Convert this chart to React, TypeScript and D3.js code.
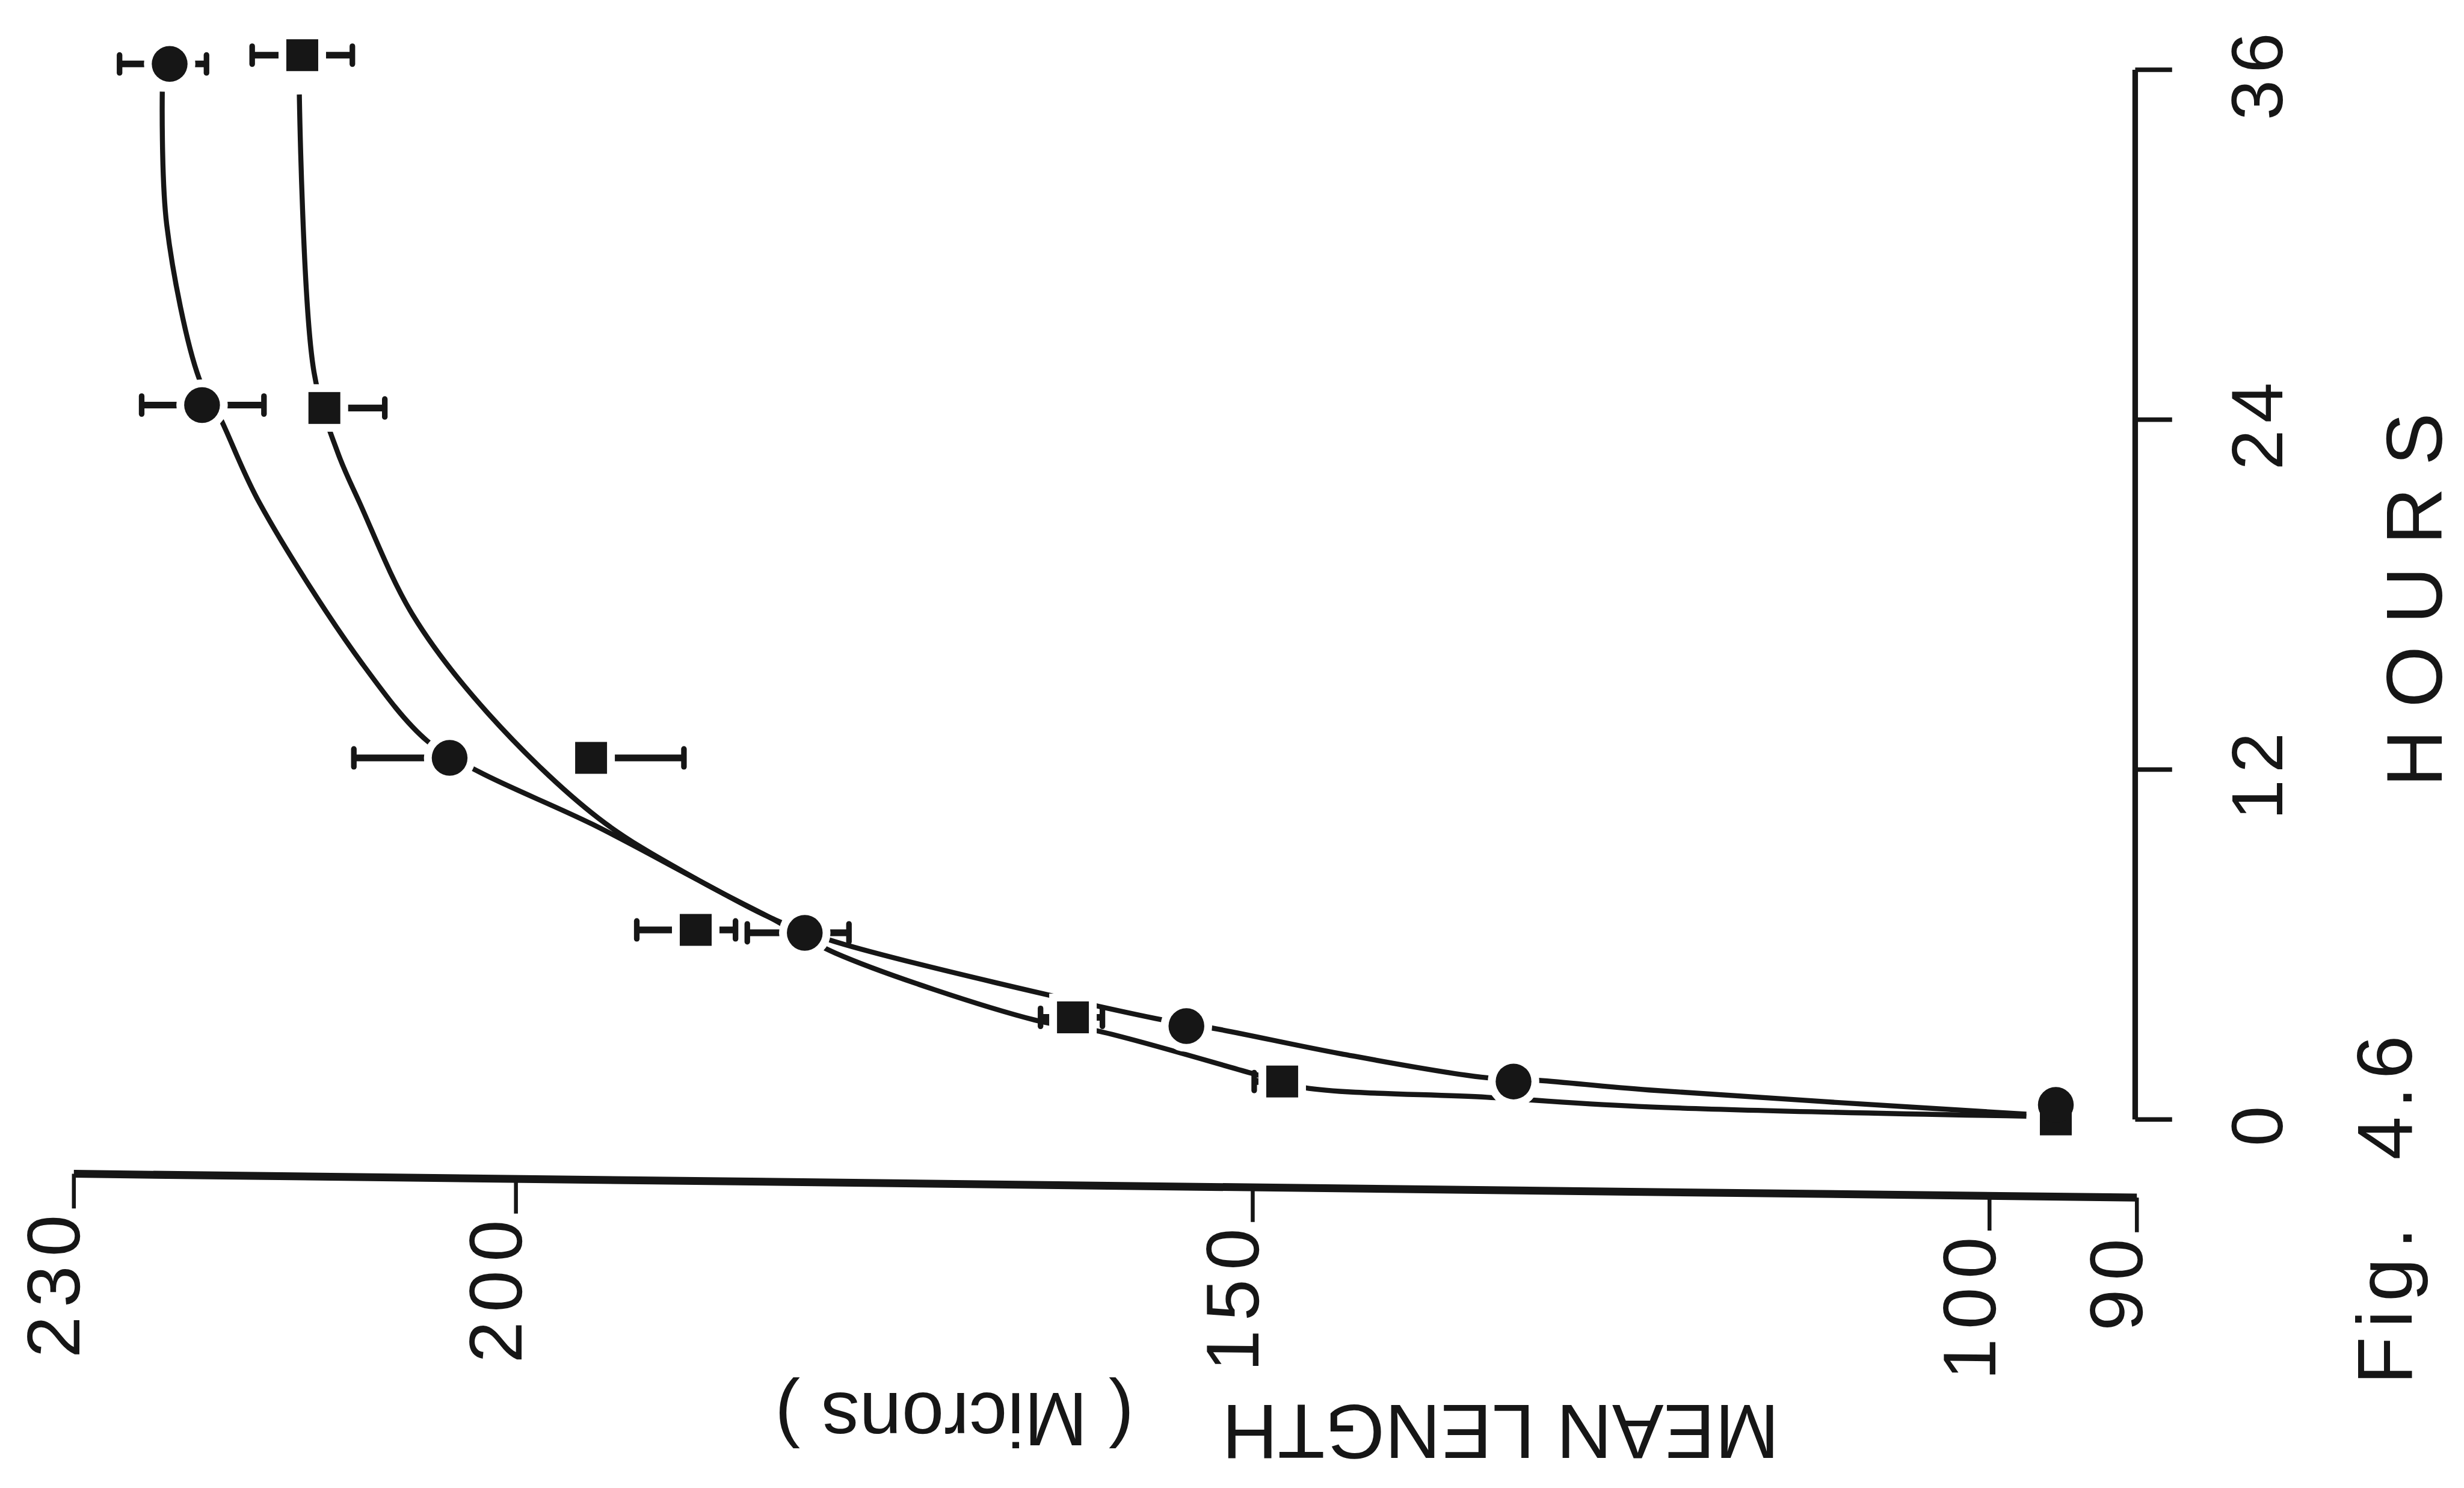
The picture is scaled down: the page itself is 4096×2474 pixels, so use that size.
import React from "react";
import * as d3 from "d3";

// figure is printed turned a quarter turn: length runs left->right (230 -> 90), hours run bottom->top
const hourTicks = [0, 12, 24, 36];
const lengthTicks = [230, 200, 150, 100, 90];

// circles
const circleHours = [0.5, 1.3, 3.2, 6.4, 12.4, 24.5, 36.2];
const circleLength = [95.5, 132.3, 154.5, 180.4, 204.5, 221.3, 223.5];
const circleErrHi = [0, 0, 0, 3.9, 6.5, 4.1, 3.4];
const circleErrLo = [0, 0, 0, 3.0, 0, 4.2, 2.5];

// squares
const squareHours = [0, 1.3, 3.5, 6.5, 12.4, 24.4, 36.5];
const squareLength = [95.5, 148.0, 162.2, 187.8, 194.9, 213.0, 214.5];
const squareErrHi = [0, 1.9, 2.2, 4.0, 0, 0, 3.4];
const squareErrLo = [0, 0, 2.0, 2.7, 6.3, 4.1, 3.4];

// hand drawn fitted curves, [hours, length]
const circleCurve: [number, number][] = [
  [35.25, 224.0], [30.69, 223.7], [25.41, 221.5], [24.09, 220.1], [21.14, 217.4],
  [15.61, 210.4], [12.97, 206.0], [11.92, 202.5], [10.12, 194.8], [8.2, 187.6],
  [6.91, 182.7], [6.09, 178.3], [3.46, 156.6], [3.1, 152.4], [2.25, 144.0],
  [1.45, 134.5], [1.34, 130.6], [1.01, 123.1], [0.18, 97.5],
];
const squareCurve: [number, number][] = [
  [35.15, 214.7], [25.62, 213.7], [22.88, 212.1], [21.14, 210.6], [17.3, 207.0],
  [13.93, 201.9], [10.33, 194.4], [8.2, 187.6], [6.91, 182.7], [5.7, 178.3],
  [3.41, 164.8], [3.02, 160.4], [1.53, 149.7], [1.09, 146.5], [0.76, 134.1],
  [0.43, 123.1], [0.11, 97.5],
];

const ink = "#161616";
const font = "'Liberation Sans', Arial, Helvetica, sans-serif";

export default function App() {
  const W = 4407;
  const H = 2662;

  const x = d3.scaleLinear().domain([230, 90]).range([132, 3822]);
  const y = d3.scaleLinear().domain([0, 36]).range([2002.6, 124.8]);

  const line = d3
    .line<[number, number]>()
    .x((d) => x(d[1]))
    .y((d) => y(d[0]))
    .curve(d3.curveCatmullRom.alpha(0.5));

  const r = 32;
  const side = 57;
  const halo = 28;

  const circles = circleHours.map((h, i) => ({
    h, v: circleLength[i], hi: circleErrHi[i], lo: circleErrLo[i], shape: "c",
  }));
  const squares = squareHours.map((h, i) => ({
    h, v: squareLength[i], hi: squareErrHi[i], lo: squareErrLo[i], shape: "s",
  }));
  const points = [...squares, ...circles];

  const axisY = 2098.4;
  const hoursX = 3819;

  const renderMarker = (p: any, i: number, isHalo: boolean) => {
    const cx = x(p.v);
    const cy = y(p.h);
    const props = isHalo
      ? { fill: "white", stroke: "white", strokeWidth: halo }
      : { fill: ink };
    return p.shape === "c" ? (
      <circle key={i} cx={cx} cy={cy} r={r} {...props} />
    ) : (
      <rect key={i} x={cx - side / 2} y={cy - side / 2} width={side} height={side} {...props} />
    );
  };

  const renderErr = (p: any, i: number) => {
    const cy = y(p.h);
    const x0 = x(p.v + p.hi);
    const x1 = x(p.v - p.lo);
    return (
      <g key={i}>
        {(p.hi > 0 || p.lo > 0) && (
          <line x1={x0} x2={x1} y1={cy} y2={cy} stroke={ink} strokeWidth={12} />
        )}
        {p.hi > 0 && (
          <line x1={x0} x2={x0} y1={cy - 16} y2={cy + 16} stroke={ink} strokeWidth={10} strokeLinecap="round" />
        )}
        {p.lo > 0 && (
          <line x1={x1} x2={x1} y1={cy - 16} y2={cy + 16} stroke={ink} strokeWidth={10} strokeLinecap="round" />
        )}
      </g>
    );
  };

  return (
    <svg
      width={4096}
      height={2474}
      viewBox={`0 0 ${W} ${H}`}
      style={{ position: "absolute", left: 0, top: 0, background: "white" }}
      fontFamily={font}
    >
      <rect width={W} height={H} fill="white" />

      {/* curves */}
      <path d={line(circleCurve) || ""} fill="none" stroke={ink} strokeWidth={9} />
      <path d={line(squareCurve) || ""} fill="none" stroke={ink} strokeWidth={9} />

      {/* error bars */}
      {points.map((p, i) => renderErr(p, i))}

      {/* white gaps round markers, then markers */}
      {points.map((p, i) => renderMarker(p, i, true))}
      {points.map((p, i) => renderMarker(p, i, false))}

      {/* length axis (slightly tilted in the print) */}
      <g transform={`translate(0,${axisY}) skewY(0.66)`}>
        <line x1={x(230)} x2={x(90)} y1={0} y2={0} stroke={ink} strokeWidth={14} />
        {lengthTicks.map((t) => (
          <g key={t}>
            <line x1={x(t)} x2={x(t)} y1={0} y2={62} stroke={ink} strokeWidth={7} />
            <text
              transform={`translate(${x(t) + 10},58) rotate(-90)`}
              textAnchor="end"
              fontSize={134}
              letterSpacing={16}
              fill={ink}
            >
              {t}
            </text>
          </g>
        ))}
      </g>

      {/* length axis title, printed upside down */}
      <text transform={`translate(2684,2513) rotate(180)`} textAnchor="middle" fontSize={138} fill={ink}>
        MEAN LENGTH
      </text>
      <text transform={`translate(1707,2492) rotate(180)`} textAnchor="middle" fontSize={136} fill={ink}>
        ( Microns )
      </text>

      {/* hours axis */}
      <line x1={hoursX} x2={hoursX} y1={y(36)} y2={y(0)} stroke={ink} strokeWidth={10} />
      {hourTicks.map((t) => (
        <g key={t}>
          <line x1={hoursX} x2={hoursX + 66} y1={y(t)} y2={y(t)} stroke={ink} strokeWidth={8} />
          <text
            transform={`translate(4082,${y(t) + 6}) rotate(-90)`}
            textAnchor="middle"
            fontSize={130}
            letterSpacing={12}
            fill={ink}
          >
            {t}
          </text>
        </g>
      ))}
      <text
        transform={`translate(4367,1053) rotate(-90)`}
        textAnchor="middle"
        fontSize={141}
        letterSpacing={40}
        fill={ink}
      >
        HOURS
      </text>

      {/* figure caption */}
      <text transform={`translate(4314,2477) rotate(-90)`} fontSize={140} letterSpacing={16} fill={ink}>
        Fig.
      </text>
      <text transform={`translate(4314,2075) rotate(-90)`} fontSize={140} letterSpacing={14} fill={ink}>
        4.6
      </text>
    </svg>
  );
}
